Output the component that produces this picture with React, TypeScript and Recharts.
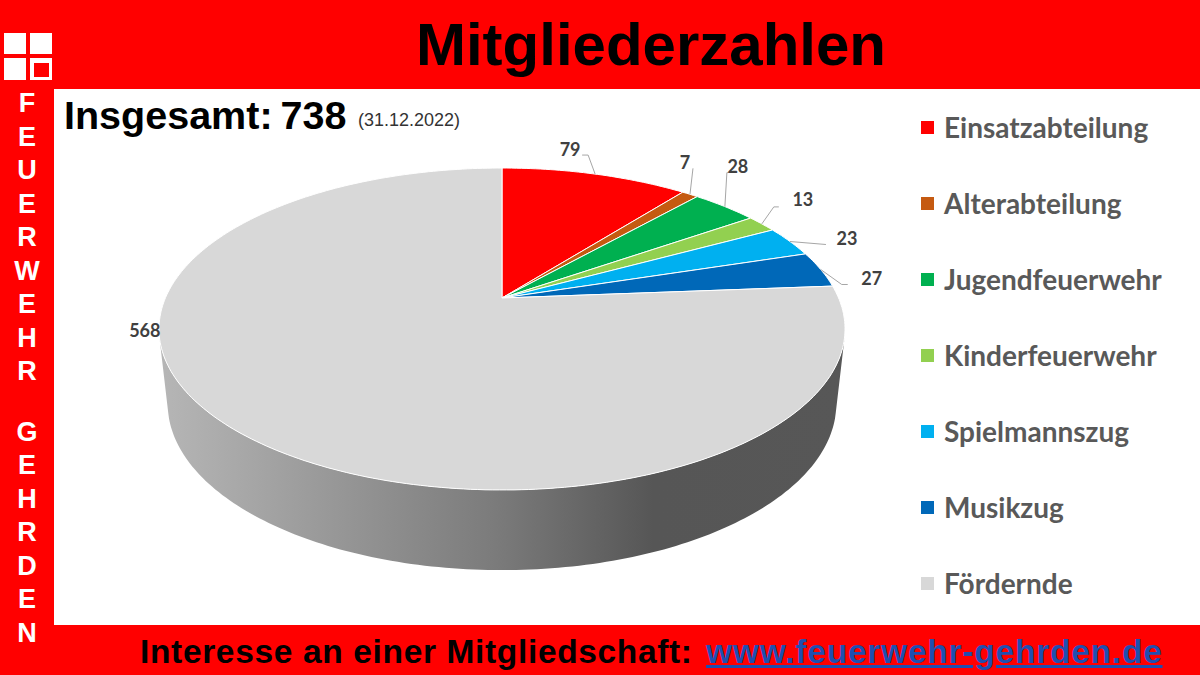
import { Legend, Pie, PieChart } from "recharts";

const names = [
  "Einsatzabteilung",
  "Alterabteilung",
  "Jugendfeuerwehr",
  "Kinderfeuerwehr",
  "Spielmannszug",
  "Musikzug",
  "Fördernde",
];
const members = [79, 7, 28, 13, 23, 27, 568];
const colors = ["#ff0000", "#c55a11", "#00b050", "#92d050", "#00b0f0", "#0068b8", "#d8d8d8"];

const data = names.map((name, i) => ({ name, value: members[i], fill: colors[i] }));

const sideLetters = ["F", "E", "U", "E", "R", "W", "E", "H", "R", "", "G", "E", "H", "R", "D", "E", "N"];

// label placement relative to the rim point of each slice: elbow, line end, text centre
const labelOffsets = [
  { elbow: [-7, -19], end: [-13, -19], text: [-25, -25] },
  { elbow: [3, -26], end: [3, -26], text: [-5, -32] },
  { elbow: [2, -34], end: [3, -34], text: [13, -41] },
  { elbow: [12, -17], end: [17, -17], text: [41, -25] },
  { elbow: [36, 3], end: [36, 3], text: [57, -4] },
  { elbow: [21, 15], end: [27, 15], text: [51, 9] },
  { elbow: null, end: null, text: [-91, -101] },
];

const CX = 502;
const CY = 298;
const PERSP = 0.1925;
const top = { y: CY, a: 336.6, b: 155 };
const bottom = { y: 372, a: 328, b: 160 };

// pie angle (deg, recharts style) -> point on a tilted disc seen in perspective
function rim(angle: number, disc: { y: number; a: number; b: number }) {
  const t = ((90 - angle) * Math.PI) / 180;
  const d = 1 + PERSP * Math.cos(t);
  return [CX + (disc.a * Math.sin(t)) / d, disc.y - (disc.b * Math.cos(t)) / d];
}

function arcPoints(from: number, to: number, disc: { y: number; a: number; b: number }) {
  const steps = Math.max(2, Math.ceil(Math.abs(to - from)));
  const pts: number[][] = [];
  for (let i = 0; i <= steps; i++) pts.push(rim(from + ((to - from) * i) / steps, disc));
  return pts;
}

const toPath = (pts: number[][]) =>
  "M" + pts.map((p) => `${p[0].toFixed(1)},${p[1].toFixed(1)}`).join("L") + "Z";

function DiscSlice(props: any) {
  const pts = [[CX, CY], ...arcPoints(props.startAngle, props.endAngle, top)];
  return <path d={toPath(pts)} fill={props.fill} stroke="#ffffff" strokeWidth={1} strokeLinejoin="round" />;
}

// front wall, only the part of a slice that faces the viewer
function WallSlice(props: any) {
  const from = Math.min(props.startAngle, -14);
  const to = Math.max(props.endAngle, -166);
  if (from <= to) return <g />;
  const pts = [...arcPoints(from, to, top), ...arcPoints(to, from, bottom)];
  return <path d={toPath(pts)} fill="url(#wall-gradient)" />;
}

function SliceLabel(props: any) {
  const [x, y] = rim(props.midAngle, top);
  const off = labelOffsets[props.index];
  return (
    <g>
      {off.elbow && off.end && (
        <polyline
          points={`${x},${y} ${x + off.elbow[0]},${y + off.elbow[1]} ${x + off.end[0]},${y + off.end[1]}`}
          fill="none"
          stroke="#a6a6a6"
          strokeWidth={1}
        />
      )}
      <text
        x={x + off.text[0]}
        y={y + off.text[1]}
        textAnchor="middle"
        dominantBaseline="central"
        fontFamily="Lato"
        fontWeight={700}
        fontSize={18}
        fill="#404040"
      >
        {props.value}
      </text>
    </g>
  );
}

function LegendList({ payload }: any) {
  // both pies report their slices, keep one row per name in data order
  const rows = names.map((name) => (payload ?? []).find((p: any) => p.value === name)).filter(Boolean);
  return (
    <div>
      {rows.map((item: any) => (
        <div key={item.value} style={{ height: 76, display: "flex", alignItems: "center" }}>
          <span style={{ width: 13, height: 13, background: item.color, marginRight: 10 }} />
          <span style={{ fontFamily: "Lato", fontWeight: 700, fontSize: 28, color: "#595959" }}>{item.value}</span>
        </div>
      ))}
    </div>
  );
}

const abs = (left: number, t: number, w: number, h: number, background: string) =>
  ({ position: "absolute", left, top: t, width: w, height: h, background }) as const;

export default function App() {
  return (
    <div style={{ position: "absolute", left: 0, top: 0, width: 1200, height: 675, background: "#fff", overflow: "hidden" }}>
      <PieChart width={1200} height={675} style={{ position: "absolute", left: 0, top: 0 }}>
        <defs>
          <linearGradient id="wall-gradient" gradientUnits="userSpaceOnUse" x1="160" y1="0" x2="845" y2="0">
            <stop offset="0%" stopColor="#b6b6b6" />
            <stop offset="49%" stopColor="#7b7b7b" />
            <stop offset="72%" stopColor="#565656" />
            <stop offset="100%" stopColor="#575757" />
          </linearGradient>
        </defs>
        <Pie
          data={data}
          dataKey="value"
          nameKey="name"
          cx={CX}
          cy={CY}
          outerRadius={150}
          startAngle={90}
          endAngle={-270}
          stroke="none"
          legendType="none"
          shape={WallSlice}
          isAnimationActive={false}
        />
        <Pie
          data={data}
          dataKey="value"
          nameKey="name"
          cx={CX}
          cy={CY}
          outerRadius={150}
          startAngle={90}
          endAngle={-270}
          shape={DiscSlice}
          label={SliceLabel}
          labelLine={false}
          isAnimationActive={false}
        />
        <Legend
          content={LegendList}
          layout="vertical"
          wrapperStyle={{ position: "absolute", left: 921, top: 89, width: 270, bottom: "auto" }}
        />
      </PieChart>

      <div style={abs(0, 0, 1200, 89, "#ff0000")} />
      <div style={abs(0, 0, 54, 675, "#ff0000")} />
      <div style={abs(0, 625, 1200, 50, "#ff0000")} />

      <div style={abs(4, 33, 22, 21, "#fff")} />
      <div style={abs(30, 33, 22, 21, "#fff")} />
      <div style={abs(4, 58, 22, 22, "#fff")} />
      <div style={abs(30, 58, 22, 22, "#fff")} />
      <div style={abs(34, 63, 15, 14, "#ff0000")} />

      <div
        style={{
          position: "absolute",
          left: 0,
          top: 0,
          width: 1200,
          paddingLeft: 102,
          boxSizing: "border-box",
          height: 89,
          lineHeight: "89px",
          textAlign: "center",
          fontFamily: "Liberation Sans",
          fontWeight: 700,
          fontSize: 60,
          color: "#000",
        }}
      >
        Mitgliederzahlen
      </div>

      <div style={{ position: "absolute", left: 0, top: 87, width: 54, textAlign: "center" }}>
        {sideLetters.map((ch, i) => (
          <div
            key={i}
            style={{
              height: ch ? 33.5 : 27,
              lineHeight: "33.5px",
              fontFamily: "Liberation Sans",
              fontWeight: 700,
              fontSize: 27,
              color: "#fff",
            }}
          >
            {ch}
          </div>
        ))}
      </div>

      <div
        style={{
          position: "absolute",
          left: 64,
          top: 93,
          whiteSpace: "nowrap",
          fontFamily: "Liberation Sans",
          fontWeight: 700,
          fontSize: 39.5,
          wordSpacing: -3,
          color: "#000",
        }}
      >
        Insgesamt: 738
        <span style={{ position: "absolute", left: 294, top: 17, fontWeight: 400, fontSize: 18, wordSpacing: 0, color: "#333" }}>
          (31.12.2022)
        </span>
      </div>

      <div
        style={{
          position: "absolute",
          left: 140,
          top: 633,
          whiteSpace: "nowrap",
          fontFamily: "Liberation Sans",
          fontWeight: 700,
          fontSize: 33.5,
          letterSpacing: 0.65,
          color: "#000",
        }}
      >
        Interesse an einer Mitgliedschaft:
        <span style={{ position: "absolute", left: 566, top: 0, color: "#1f4fb0", letterSpacing: 0.77, textDecoration: "underline" }}>
          www.feuerwehr-gehrden.de
        </span>
      </div>
    </div>
  );
}
